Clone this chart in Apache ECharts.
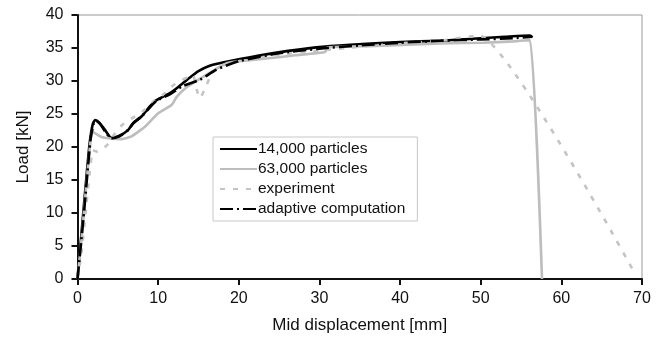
<!DOCTYPE html>
<html>
<head>
<meta charset="utf-8">
<script src="https://cdn.jsdelivr.net/npm/echarts@6/dist/echarts.min.js"></script>
<style>
  html, body { margin: 0; padding: 0; background: #fff; }
  #chart { width: 665px; height: 352px; }
</style>
</head>
<body>
<div id="chart"></div>
<script>
// displacement [mm] / load [kN]
const fineX = [0, 0.5, 1.0, 1.5, 1.9, 2.2, 2.7, 3.4, 4.2, 5.2, 6.3, 6.9, 8.0, 9.0, 9.8, 11.5, 12.5, 13.9, 15.0, 16.4, 18.0, 21.4, 24.7, 29.6, 33.8, 40.0, 45.0, 49.0, 53.0, 56.1, 56.4]
const fineY = [0, 7, 14, 20.5, 23.5, 24.1, 23.7, 22.6, 21.4, 21.7, 22.6, 23.6, 24.7, 26.2, 27.1, 28.2, 29.1, 30.5, 31.5, 32.3, 32.8, 33.6, 34.3, 35.1, 35.5, 35.9, 36.1, 36.4, 36.7, 36.9, 36.6]

const denseX = [0, 0.5, 1.0, 1.5, 1.8, 2.3, 3.0, 4.0, 5.5, 6.7, 8.4, 10.0, 11.7, 12.3, 13.5, 15.0, 17.0, 18.5, 20.0, 23.4, 27.0, 30.7, 31.0, 37.0, 45.0, 50.3, 54.0, 56.1, 57.6]
const denseY = [0, 6, 13, 19.5, 22.3, 22.0, 21.5, 21.3, 21.2, 21.6, 23.1, 25.1, 26.4, 27.6, 29.0, 30.2, 31.7, 32.7, 33.0, 33.4, 33.9, 34.4, 35.1, 35.3, 35.7, 35.8, 36.0, 36.2, 0]

const expX = [0, 0.5, 1.0, 1.5, 1.9, 2.5, 3.6, 4.5, 5.5, 6.7, 8.0, 9.6, 10.5, 11.9, 14.3, 14.8, 15.2, 16.0, 16.8, 18.0, 20.0, 25.0, 30.0, 35.0, 40.0, 45.0, 49.8, 68.9]
const expY = [0, 4, 10, 16, 19.5, 19.3, 20.2, 21.8, 23.3, 24.3, 25.3, 27.1, 27.8, 29.4, 30.9, 28.6, 27.4, 29.4, 31.5, 32.3, 33.0, 34.0, 34.6, 35.2, 35.7, 36.1, 36.9, 1.3]

const adaptX = [0, 0.8, 1.6, 2.0, 2.3, 2.8, 3.4, 4.2, 5.2, 6.3, 6.9, 8.0, 9.8, 11.5, 13.0, 15.2, 17.2, 20.0, 25.0, 30.0, 35.0, 40.0, 45.0, 50.0, 54.0, 56.4]
const adaptY = [0, 10, 21, 23.5, 24.0, 23.5, 22.4, 21.3, 21.6, 22.6, 23.6, 24.7, 27.0, 28.0, 29.2, 30.2, 31.7, 33.0, 34.2, 34.9, 35.4, 35.8, 36.1, 36.3, 36.5, 36.7]

const xTicks = { min: 0, max: 70, interval: 10 }
const yTicks = { min: 0, max: 40, interval: 5 }

const zip = (xs, ys) => xs.map((x, i) => [x, ys[i]])

const chart = echarts.init(document.getElementById('chart'))
const font = 'Liberation Sans, Arial, sans-serif'

chart.setOption({
  backgroundColor: '#fff',
  animation: false,
  textStyle: { fontFamily: font },
  grid: {
    left: 77.5, right: 23, top: 15, bottom: 73,
    show: true, borderColor: '#999', borderWidth: 1
  },
  legend: {
    orient: 'vertical',
    left: 213, top: 137,
    itemWidth: 37, itemHeight: 14, itemGap: 4,
    padding: [4, 12, 4, 6],
    borderColor: '#c8c8c8', borderWidth: 1,
    backgroundColor: '#fff',
    itemStyle: { opacity: 0 },
    textStyle: { fontFamily: font, fontSize: 15.5, color: '#111', padding: [0, 0, 0, -4] },
    data: ['14,000 particles', '63,000 particles', 'experiment', 'adaptive computation']
  },
  xAxis: {
    type: 'value',
    min: xTicks.min, max: xTicks.max, interval: xTicks.interval,
    name: 'Mid displacement [mm]',
    nameLocation: 'middle', nameGap: 38,
    nameTextStyle: { fontFamily: font, fontSize: 17, color: '#111' },
    axisLine: { lineStyle: { color: '#111', width: 2 } },
    axisTick: { length: 6, lineStyle: { color: '#111', width: 2 } },
    axisLabel: { fontFamily: font, fontSize: 16, color: '#111', margin: 12 },
    splitLine: { show: false }
  },
  yAxis: {
    type: 'value',
    min: yTicks.min, max: yTicks.max, interval: yTicks.interval,
    name: 'Load [kN]',
    nameLocation: 'middle', nameGap: 46,
    nameTextStyle: { fontFamily: font, fontSize: 17, color: '#111' },
    axisLine: { show: true, lineStyle: { color: '#111', width: 2 } },
    axisTick: { show: true, length: 6, lineStyle: { color: '#111', width: 2 } },
    axisLabel: { fontFamily: font, fontSize: 16, color: '#111', margin: 14 },
    splitLine: { show: false }
  },
  series: [
    {
      name: '14,000 particles', type: 'line', symbol: 'none', smooth: 0.2,
      data: zip(fineX, fineY),
      lineStyle: { color: '#000', width: 2.6 }, itemStyle: { color: '#000' }, z: 2
    },
    {
      name: '63,000 particles', type: 'line', symbol: 'none', smooth: 0.15,
      data: zip(denseX, denseY),
      lineStyle: { color: '#bdbdbd', width: 2.6 }, itemStyle: { color: '#bdbdbd' }, z: 3
    },
    {
      name: 'experiment', type: 'line', symbol: 'none', smooth: 0.15,
      data: zip(expX, expY),
      lineStyle: { color: '#c4c4c4', width: 2.6, type: [5, 8] }, itemStyle: { color: '#c4c4c4' }, z: 4
    },
    {
      name: 'adaptive computation', type: 'line', symbol: 'none', smooth: 0.2,
      data: zip(adaptX, adaptY),
      lineStyle: { color: '#000', width: 2.6, type: [13, 4, 2, 4] }, itemStyle: { color: '#000' }, z: 5
    }
  ]
})
</script>
</body>
</html>
